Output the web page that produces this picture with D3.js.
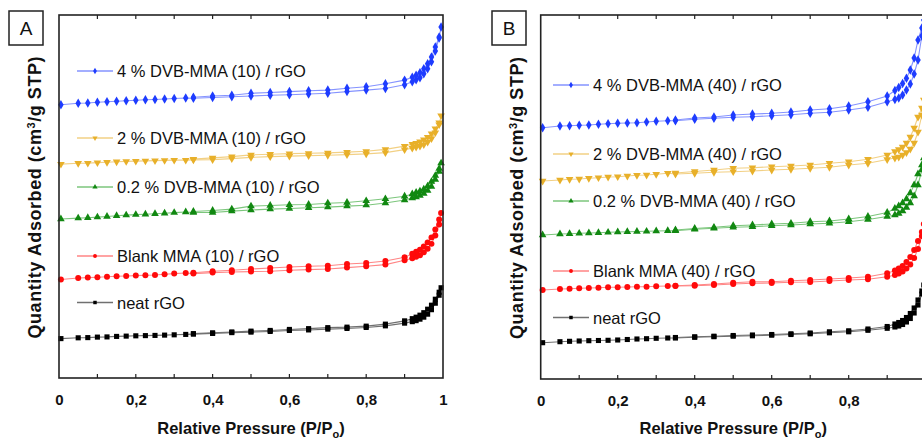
<!DOCTYPE html>
<html>
<head>
<meta charset="utf-8">
<script src="https://cdn.jsdelivr.net/npm/d3@7"></script>
<style>
  html, body { margin: 0; padding: 0; background: #fff; }
  svg { display: block; }
  text { font-family: "Liberation Sans", Arial, sans-serif; fill: #111; }
</style>
</head>
<body>
<svg id="chart" width="922" height="439"></svg>
<script>
// Relative pressure of the measured points (adsorption going up, desorption coming down)
const P_ADS = [0.005, 0.05, 0.075, 0.1, 0.125, 0.15, 0.175, 0.2, 0.225, 0.25, 0.275, 0.3, 0.33, 0.35,
               0.4, 0.45, 0.5, 0.55, 0.6, 0.65, 0.7, 0.75, 0.8, 0.85, 0.9, 0.92, 0.93, 0.94, 0.95,
               0.96, 0.97, 0.98, 0.99, 0.995];
const P_DES = [0.99, 0.98, 0.97, 0.96, 0.95, 0.94, 0.93, 0.92, 0.9, 0.85, 0.8, 0.75, 0.7, 0.65,
               0.6, 0.55, 0.5, 0.45, 0.4, 0.35];

// Quantity adsorbed (isotherms vertically offset for clarity, arbitrary units)
// Panel A – copolymers (10) / rGO
const adsA_dvb4 = [274, 275.5, 275.7, 276.5, 277, 277.5, 278, 278.5, 279, 279.3, 279.7, 280.2, 280.7, 280.5,
  281.3, 282, 282.8, 283.5, 284, 284.8, 285.5, 287.2, 288.7, 290.3, 294, 297, 299, 301, 305, 310, 317, 328, 341, 352];
const desA_dvb4 = [342, 332, 322, 315, 310, 306, 303.5, 301.5, 298.7, 295, 292, 290.5, 288.7, 288, 287.2, 286.3,
  285.5, 283.5, 282.8, 281.5];
const adsA_dvb2 = [214.5, 215.3, 215.5, 216, 216.3, 216.8, 217.2, 217.5, 217.7, 218, 218.2, 218.5, 218.5, 218.7,
  219, 220, 221.2, 222, 222.5, 223, 223.3, 224, 224.7, 226, 229, 230.5, 231.5, 232.5, 234, 236.5, 240, 246, 254, 263];
const desA_dvb2 = [256, 250, 245, 241.5, 239, 237, 235.5, 234.5, 232.5, 229.3, 227.3, 226.5, 225.7, 225.3, 225,
  224.3, 223.7, 222, 220.7, 219.5];
const adsA_dvb02 = [159.5, 160.3, 160.7, 161.3, 162, 162.7, 163.3, 163.8, 164.2, 164.7, 165.2, 165.8, 166.5, 166,
  166, 167.3, 168.5, 169.3, 170, 170.7, 171.3, 172.3, 173.3, 175.5, 178.5, 180.5, 181.5, 183, 185, 188, 192, 199, 207, 215.5];
const desA_dvb02 = [210, 203, 197, 192.5, 189.5, 187.5, 186, 184.5, 182.3, 179.7, 177.7, 176, 175.3, 174, 173.7,
  173, 172.3, 169.3, 168, 167];
const adsA_blank = [98.7, 100.3, 100.7, 101, 101.5, 102, 102.3, 102.7, 103, 103.3, 104, 104.7, 105.3, 104.7,
  105.7, 106.3, 106.7, 107, 108, 108.7, 109.3, 110.7, 112, 113.7, 118, 120, 121.5, 123, 126, 129.5, 134.5, 143, 154, 165.5];
const desA_blank = [159, 149, 141, 136, 132, 128.5, 126.5, 124.5, 121, 117.3, 115.3, 114.3, 112.5, 112, 111.3,
  110.3, 109.3, 108, 107, 105.5];
const adsA_neat = [39.5, 40.3, 40.5, 41, 41.2, 41.7, 42, 42.3, 42.5, 42.7, 43, 43.3, 43.7, 44, 44.7, 45.5, 46,
  46.7, 47.7, 48.2, 49, 49.7, 50.7, 52.3, 55, 56.5, 57.5, 59, 61, 64, 68.5, 75, 83, 90.5];
const desA_neat = [86, 79, 73, 69, 65.5, 63, 61, 59.5, 57.3, 54, 52, 51, 50.5, 49.5, 48.7, 47.7, 47, 46.2, 45.3, 44.5];

// Panel B – copolymers (40) / rGO
const adsB_dvb4 = [251.3, 253, 253.3, 253.7, 254, 254.7, 255.3, 255.7, 256, 256.3, 257, 257.7, 258.3, 258.3,
  259.7, 260.7, 261.7, 262.3, 263.3, 264.3, 265.7, 266.7, 269, 271.7, 277.3, 279.5, 281, 284, 289, 295, 305, 319, 343, 359];
const desB_dvb4 = [351, 339, 321, 309, 300.7, 295.5, 291.5, 288.5, 283, 277.3, 273, 270.3, 269, 267, 265.7, 265,
  264, 262, 261, 259];
const adsB_dvb2 = [198, 199, 199.7, 200, 200.7, 201.3, 202, 202.3, 203, 203.7, 204, 204.7, 205.7, 205, 205.7,
  206.7, 207.3, 208, 209, 209.7, 210.7, 211.7, 214, 215.7, 219.5, 221, 222, 224, 226.5, 230, 236, 247, 264, 279];
const desB_dvb2 = [271, 262, 251, 242, 236, 232, 229.5, 227.5, 224, 219.7, 217.3, 215.7, 214, 213, 212.3, 211.3,
  210.7, 209, 207.5, 206];
const adsB_dvb02 = [144, 145, 145.3, 145.7, 146, 146.3, 146.7, 147, 147.3, 147.5, 147.7, 148, 148.3, 148.3, 149.7,
  150.7, 151.7, 152.3, 153.3, 154, 155, 155.7, 157.3, 159.5, 162.5, 164, 165.5, 168, 171.5, 176, 183, 194, 209, 221];
const desB_dvb02 = [214, 205, 194, 186, 180, 176, 173, 170.5, 166.5, 162.5, 160, 158, 157.3, 155.7, 155, 154,
  153.3, 151.7, 150.5, 149];
const adsB_blank = [89, 90, 90.3, 90.7, 91, 91.3, 91.7, 91.7, 92, 92.3, 92.3, 92.7, 93, 93, 93.3, 94, 95, 95.7,
  96, 96.7, 97, 98, 99, 99.7, 102.3, 104, 105.5, 107.5, 110.5, 114.5, 121, 130, 143, 155];
const desB_blank = [147, 138, 129, 122, 117, 113, 110.5, 108.5, 105.7, 102.3, 101, 100, 99, 98.3, 97.3, 97.3,
  96.3, 95, 94, 93.3];
const adsB_neat = [36.3, 37.3, 37.7, 38, 38.3, 38.5, 38.7, 39, 39.5, 40, 40.3, 40.7, 41, 41, 41.7, 42.3, 42.8,
  43.2, 43.8, 44.5, 45.2, 46.2, 47.2, 48.7, 50.7, 52, 53, 54.5, 57, 60.5, 66, 74, 85, 94];
const desB_neat = [88, 79, 71, 65.5, 61.5, 58.5, 56.5, 55, 52.5, 50, 48.2, 47.2, 46, 45.2, 44.5, 44, 43.5, 42.8,
  42.2, 41.5];

const labelsA = ["4 % DVB-MMA (10) / rGO", "2 % DVB-MMA (10) / rGO", "0.2 % DVB-MMA (10) / rGO",
                 "Blank MMA (10) / rGO", "neat rGO"];
const labelsB = ["4 % DVB-MMA (40) / rGO", "2 % DVB-MMA (40) / rGO", "0.2 % DVB-MMA (40) / rGO",
                 "Blank MMA (40) / rGO", "neat rGO"];

const xTickValues = [0, 0.2, 0.4, 0.6, 0.8, 1];
const xTickLabels = ["0", "0,2", "0,4", "0,6", "0,8", "1"];
const xMinorTicks = [0.1, 0.2, 0.3, 0.4, 0.5, 0.6, 0.7, 0.8, 0.9];

// Styling per sample, in legend order
const markerColors = ["#1e3cff", "#e8b02a", "#118811", "#ff0a0a", "#000000"];
const lineColors   = ["#8593ff", "#f2d084", "#7cc67c", "#ff8585", "#707070"];
const shapes = ["diamond", "triangleDown", "triangle", "circle", "square"];

const W = 922, H = 439;

const panels = [
  { tag: "A", labels: labelsA,
    ads: [adsA_dvb4, adsA_dvb2, adsA_dvb02, adsA_blank, adsA_neat],
    des: [desA_dvb4, desA_dvb2, desA_dvb02, desA_blank, desA_neat],
    left: 59, right: 443, top: 15, bottom: 378,
    box: [9, 11], yTitleX: 41,
    legendX: 77, legendY: [71, 138, 187, 256, 302.5] },
  { tag: "B", labels: labelsB,
    ads: [adsB_dvb4, adsB_dvb2, adsB_dvb02, adsB_blank, adsB_neat],
    des: [desB_dvb4, desB_dvb2, desB_dvb02, desB_blank, desB_neat],
    left: 540.7, right: 925.7, top: 15, bottom: 379,
    box: [492, 11], yTitleX: 523,
    legendX: 553, legendY: [85, 154, 201, 271, 317.5] }
];

const svg = d3.select("#chart");
svg.append("rect").attr("width", W).attr("height", H).attr("fill", "#fff");

function symbolPath(shape, size) {
  const types = {
    diamond: d3.symbolDiamond, triangle: d3.symbolTriangle, triangleDown: d3.symbolTriangle,
    circle: d3.symbolCircle, square: d3.symbolSquare
  };
  return d3.symbol(types[shape], size)();
}
function symbolTransform(shape, x, y) {
  return `translate(${x},${y})` + (shape === "triangleDown" ? " rotate(180)" : "");
}
const markerSize = { diamond: 26, triangle: 25, triangleDown: 25, circle: 28, square: 26 };

panels.forEach(p => {
  const g = svg.append("g");
  const x = d3.scaleLinear().domain([0, 1]).range([p.left, p.right]);
  const y = d3.scaleLinear().domain([0, 364]).range([p.bottom, p.top]);

  // Isotherms: adsorption and desorption branches
  const line = d3.line().x(d => x(d[0])).y(d => y(d[1]));
  p.ads.forEach((vals, i) => {
    const adsPts = P_ADS.map((pp, k) => [pp, vals[k]]);
    const desPts = P_DES.map((pp, k) => [pp, p.des[i][k]]);
    const s = g.append("g");
    [adsPts, desPts].forEach(pts => {
      s.append("path").attr("d", line(pts)).attr("fill", "none")
        .attr("stroke", lineColors[i]).attr("stroke-width", 1.1);
    });
    s.selectAll("path.m").data(adsPts.concat(desPts)).join("path")
      .attr("class", "m")
      .attr("d", symbolPath(shapes[i], markerSize[shapes[i]]))
      .attr("transform", d => symbolTransform(shapes[i], x(d[0]), y(d[1])))
      .attr("fill", markerColors[i]);
  });

  // Frame
  g.append("rect").attr("x", p.left).attr("y", p.top)
    .attr("width", p.right - p.left).attr("height", p.bottom - p.top)
    .attr("fill", "none").attr("stroke", "#222").attr("stroke-width", 1.6);

  // Inward ticks on top and bottom
  xMinorTicks.forEach(t => {
    g.append("line").attr("x1", x(t)).attr("x2", x(t)).attr("y1", p.top).attr("y2", p.top + 4)
      .attr("stroke", "#222").attr("stroke-width", 1.2);
    g.append("line").attr("x1", x(t)).attr("x2", x(t)).attr("y1", p.bottom).attr("y2", p.bottom - 4)
      .attr("stroke", "#222").attr("stroke-width", 1.2);
  });

  // Tick labels via a bottom axis (labels past the page edge are left out)
  const shown = xTickValues.filter(v => x(v) + 4 < W);
  const axis = d3.axisBottom(x).tickValues(shown)
    .tickFormat(v => xTickLabels[xTickValues.indexOf(v)]).tickSize(0).tickPadding(0);
  const ax = g.append("g").attr("transform", `translate(0,${p.bottom})`).call(axis);
  ax.select(".domain").remove();
  ax.selectAll("text").attr("y", 27).attr("dy", null)
    .style("font-size", "15px").style("font-weight", "bold")
    .style("font-family", '"Liberation Sans", Arial, sans-serif').attr("fill", "#111");

  // Axis titles
  const xt = g.append("text").attr("x", (p.left + p.right) / 2).attr("y", 433.5)
    .attr("text-anchor", "middle").style("font-size", "16.5px").style("font-weight", "bold");
  xt.append("tspan").text("Relative Pressure (P/P");
  xt.append("tspan").text("o").attr("dy", 4).style("font-size", "11px");
  xt.append("tspan").text(")").attr("dy", -4);

  const yt = g.append("text")
    .attr("transform", `translate(${p.yTitleX},${(p.top + p.bottom) / 2 + 1}) rotate(-90)`)
    .attr("text-anchor", "middle").style("font-size", "18px").style("font-weight", "bold")
    .attr("textLength", 282).attr("lengthAdjust", "spacing");
  yt.append("tspan").text("Quantity Adsorbed (cm");
  yt.append("tspan").text("3").attr("dy", -6).style("font-size", "11px");
  yt.append("tspan").text("/g STP)").attr("dy", 6);

  // Panel tag
  g.append("rect").attr("x", p.box[0]).attr("y", p.box[1]).attr("width", 34).attr("height", 34)
    .attr("fill", "#fff").attr("stroke", "#222").attr("stroke-width", 1.5);
  g.append("text").attr("x", p.box[0] + 17).attr("y", p.box[1] + 24)
    .attr("text-anchor", "middle").style("font-size", "19px").text(p.tag);

  // Legend entries
  p.labels.forEach((lab, i) => {
    const ly = p.legendY[i];
    g.append("line").attr("x1", p.legendX).attr("x2", p.legendX + 36).attr("y1", ly).attr("y2", ly)
      .attr("stroke", lineColors[i]).attr("stroke-width", 1.3);
    g.append("path").attr("d", symbolPath(shapes[i], 12))
      .attr("transform", symbolTransform(shapes[i], p.legendX + 18, ly)).attr("fill", markerColors[i]);
    g.append("text").attr("x", p.legendX + 40).attr("y", ly + 6)
      .style("font-size", "16.5px").text(lab);
  });
});
</script>
</body>
</html>
